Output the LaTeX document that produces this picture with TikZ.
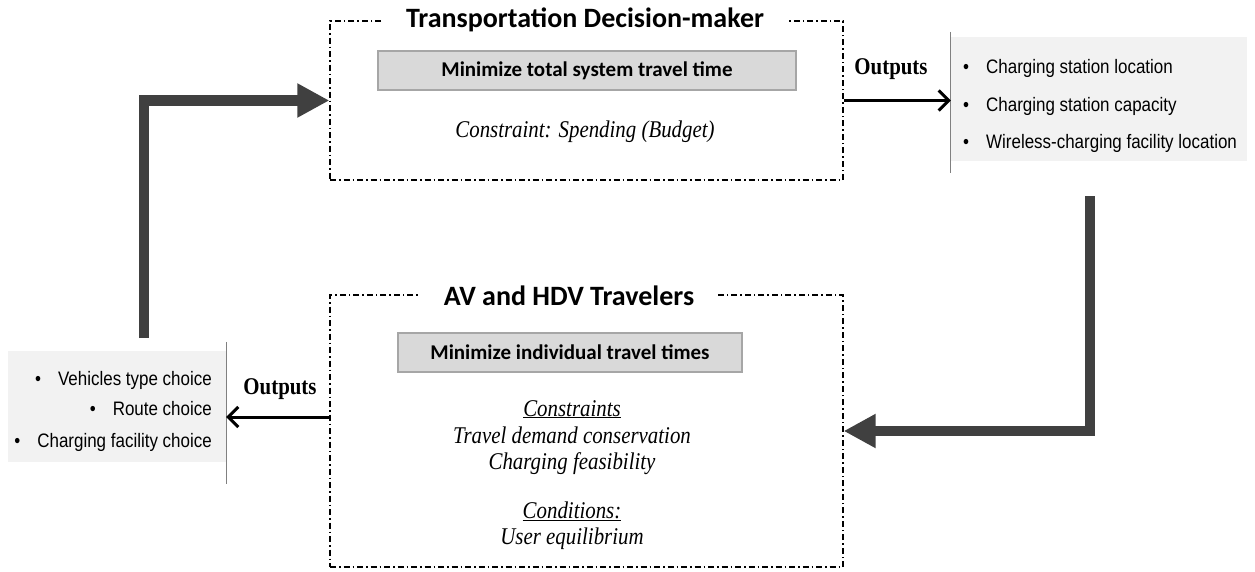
\documentclass[tikz,border=0pt]{standalone}
\usepackage{fontspec}
\setmainfont{Liberation Serif}[FakeStretch=0.87]
\newfontfamily\calfont{Carlito}
\newfontfamily\arialfont{Liberation Sans}[FakeStretch=0.87]
\usetikzlibrary{arrows.meta,calc}
\definecolor{boxgray}{HTML}{D9D9D9}
\definecolor{boxedge}{HTML}{A6A6A6}
\definecolor{listfill}{HTML}{F2F2F2}
\definecolor{bigarrow}{HTML}{404040}
\definecolor{sepline}{HTML}{808080}

\begin{document}
\begin{tikzpicture}[x=1pt,y=-1pt,
  frame/.style={draw=black, line width=1.3pt, dash pattern=on 6pt off 3pt on 1.5pt off 3pt, minimum width=513pt, inner sep=0pt},
  title/.style={fill=white, inner xsep=24pt, inner ysep=1pt, font=\calfont\bfseries\fontsize{28}{33}\selectfont, anchor=base},
  goal/.style={draw=boxedge, line width=1.5pt, fill=boxgray, inner sep=0pt, font=\calfont\bfseries\fontsize{21}{25}\selectfont},
  note/.style={font=\itshape\fontsize{24}{28}\selectfont, anchor=base, inner sep=0pt},
  outlabel/.style={font=\bfseries\fontsize{24}{28}\selectfont, anchor=base, inner sep=0pt},
  listbox/.style={fill=listfill, inner sep=0pt},
  item/.style={font=\arialfont\fontsize{19.5}{23}\selectfont, inner sep=0pt},
  sep/.style={draw=sepline, line width=1.2pt},
  outarrow/.style={line width=3pt, -{Straight Barb[length=10pt,width=20pt]}},
  loop/.style={draw=bigarrow, line width=10.5pt, -{Triangle[length=32pt,width=32pt]}, line join=miter}
]
\useasboundingbox (0,0) rectangle (1255,571);

% decision-maker and traveler frames
\node[frame, minimum height=159pt] (topbox) at (586.5,100.5) {};
\node[frame, minimum height=272pt] (botbox) at (586.5,431) {};
\node[title] (toptitle) at (585,27) {Transportation Decision-maker};
\node[title] (bottitle) at (569,305) {AV and HDV Travelers};

% objectives
\node[goal, minimum width=418pt, minimum height=39pt] (topgoal) at (587,70.5) {Minimize total system travel time};
\node[goal, minimum width=344pt, minimum height=39pt] (botgoal) at (570,352.5) {Minimize individual travel times};

% constraints and conditions
\node[note] (budget) at (585,137) {Constraint: Spending (Budget)};
\node[note] (cons) at (572,416) {\underline{Constraints}};
\node[note] (cons1) at (572,443) {Travel demand conservation};
\node[note] (cons2) at (572,469) {Charging feasibility};
\node[note] (cond) at (572,518) {\underline{Conditions:}};
\node[note] (cond1) at (572,544) {User equilibrium};

% decision-maker outputs
\node[listbox, minimum width=296pt, minimum height=124pt] (rlist) at (1099,99) {};
\node[item, anchor=base west] (r1) at (963,73) {•\hspace{17pt}Charging station location};
\node[item, anchor=base west] (r2) at (963,111) {•\hspace{17pt}Charging station capacity};
\node[item, anchor=base west] (r3) at (963,148) {•\hspace{17pt}Wireless-charging facility location};
\draw[sep] ([yshift=5pt]rlist.north west) -- ([yshift=-12pt]rlist.south west);

% traveler outputs
\node[listbox, minimum width=218pt, minimum height=111pt] (llist) at (117,406.5) {};
\node[item, anchor=base east] (l1) at (212,385) {•\hspace{17pt}Vehicles type choice};
\node[item, anchor=base east] (l2) at (212,415) {•\hspace{17pt}Route choice};
\node[item, anchor=base east] (l3) at (212,447) {•\hspace{17pt}Charging facility choice};
\draw[sep] ([yshift=9pt]llist.north east) -- ([yshift=-22pt]llist.south east);

% output arrows
\node[outlabel] (outtop) at (891,74) {Outputs};
\node[outlabel] (outbot) at (280,394) {Outputs};
\draw[outarrow] (topbox.east) -- (topbox.east -| rlist.west);
\coordinate (outL) at ([yshift=14pt]botbox.west);
\draw[outarrow] (outL) -- (outL -| llist.east);

% feedback loop
\coordinate (loopL) at (144,338);
\draw[loop] (loopL) |- (topbox.west);
\coordinate (loopR) at (1090,196);
\draw[loop] (loopR) |- (botbox.east);
\end{tikzpicture}
\end{document}
